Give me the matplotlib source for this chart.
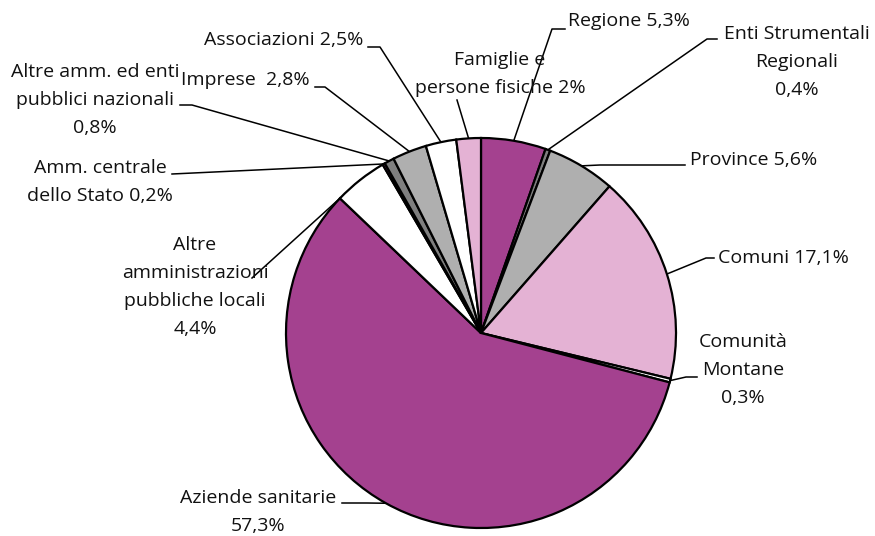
import numpy as np
import matplotlib.pyplot as plt

plt.rcParams['font.family'] = ['Open Sans', 'DejaVu Sans']

# quote percentuali per comparto (valori delle etichette)
categories = ['Regione', 'Enti Strumentali Regionali', 'Province', 'Comuni',
              'Comunità Montane', 'Aziende sanitarie',
              'Altre amministrazioni pubbliche locali',
              'Amm. centrale dello Stato',
              'Altre amm. ed enti pubblici nazionali', 'Imprese',
              'Associazioni', 'Famiglie e persone fisiche']
shares = [5.3, 0.4, 5.6, 17.1, 0.3, 57.3, 4.4, 0.2, 0.8, 2.8, 2.5, 2.0]
labels = ['Regione 5,3%', 'Enti Strumentali\nRegionali\n0,4%', 'Province 5,6%',
          'Comuni 17,1%', 'Comunità\nMontane\n0,3%', 'Aziende sanitarie\n57,3%',
          'Altre\namministrazioni\npubbliche locali\n4,4%',
          'Amm. centrale\ndello Stato 0,2%',
          'Altre amm. ed enti\npubblici nazionali\n0,8%', 'Imprese  2,8%',
          'Associazioni 2,5%', 'Famiglie e\npersone fisiche 2%']

purple = '#a4418f'
dgrey = '#7f7f7f'
grey = '#afafaf'
pink = '#e4b2d4'
white = '#ffffff'
colors = [purple, dgrey, grey, pink, white, purple, white, purple, dgrey,
          grey, white, pink]

W, H = 875, 536
CX, CY, R = 481, 333, 195


def px(x, y):
    # pixel position (from top-left) -> data coords
    return (x - CX) / R, (CY - y) / R


# text position, alignment, leader points from text side towards the pie
layout = [
    ((568, 21), 'left', [(565, 29), (552, 29)]),
    ((797, 62), 'center', [(717, 39), (707, 39)]),
    ((690, 160), 'left', [(685, 165), (600, 165)]),
    ((718, 258), 'left', [(714, 258), (706, 258)]),
    ((743, 370), 'center', [(697, 377), (686, 377)]),
    ((258, 512), 'center', [(342, 503), (367, 503)]),
    ((195, 287), 'center', [(252, 278)]),
    ((100, 182), 'center', [(172, 174)]),
    ((95, 100), 'center', [(180, 105), (192, 105)]),
    ((310, 80), 'right', [(315, 87), (325, 87)]),
    ((363, 40), 'right', [(368, 47), (380, 47)]),
    ((500, 74), 'center', [(457, 100)]),
]

fig = plt.figure(figsize=(W / 100, H / 100), dpi=100)
ax = fig.add_axes([0, 0, 1, 1])

wedges, _ = ax.pie(shares, colors=colors, startangle=90, counterclock=False,
                   radius=1, wedgeprops=dict(edgecolor='black', linewidth=1.6))

for w, lab, (tpos, ha, pts) in zip(wedges, labels, layout):
    mid = np.deg2rad((w.theta1 + w.theta2) / 2)
    anchor = (np.cos(mid), np.sin(mid))
    path = [px(*p) for p in pts] + [anchor]
    xs, ys = zip(*path)
    ax.plot(xs, ys, color='black', lw=1.1, zorder=0)
    tx, ty = px(*tpos)
    ax.text(tx, ty, lab, ha=ha, va='center', multialignment='center',
            fontsize=14, color='#111111', linespacing=1.7)

ax.set_xlim(-CX / R, (W - CX) / R)
ax.set_ylim(-(H - CY) / R, CY / R)
ax.set_aspect('equal')
ax.axis('off')

fig.savefig('out.png', dpi=100, facecolor='white')
